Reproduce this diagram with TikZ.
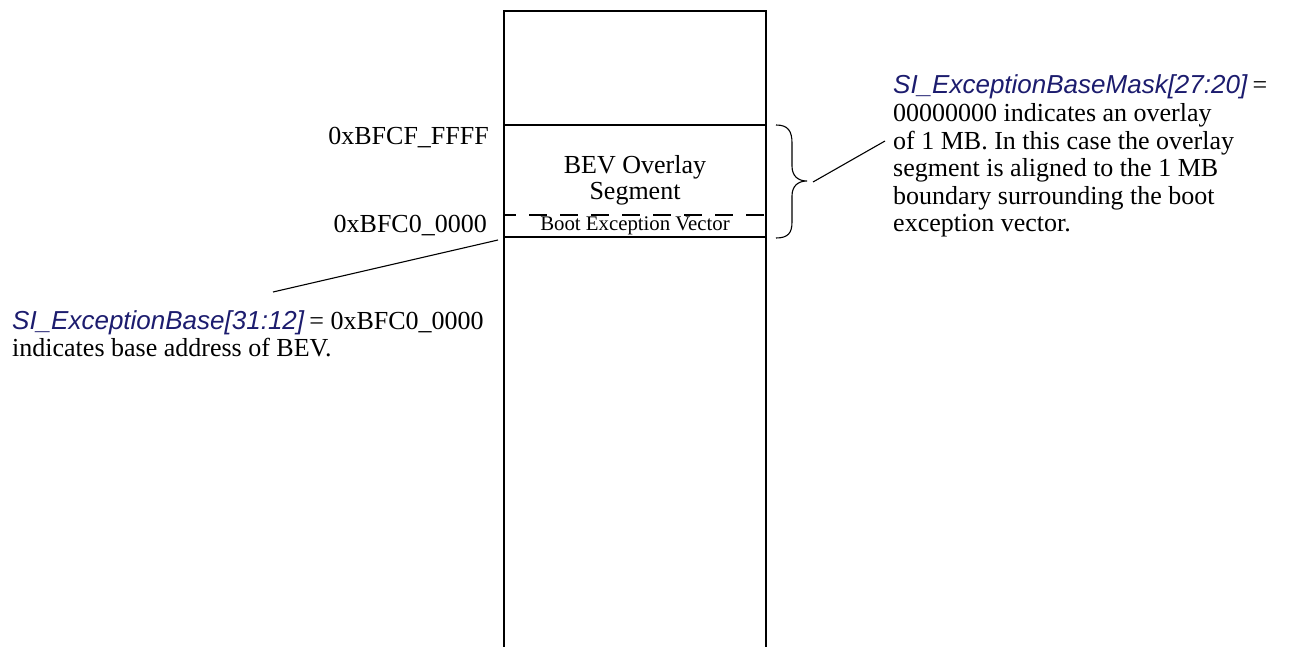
\documentclass[tikz,border=0pt]{standalone}
\usepackage{fontspec}
\setmainfont{Liberation Serif}
\setsansfont{Liberation Sans}
\definecolor{sicolor}{RGB}{28,28,110}
\begin{document}
\begin{tikzpicture}[x=1pt,y=-1pt,
  txt/.style={inner sep=0pt,font=\fontsize{26}{26}\selectfont},
  small/.style={inner sep=0pt,font=\fontsize{20.8}{21}\selectfont},
  box/.style={line width=2pt},
  thin/.style={line width=1.1pt},
  sitxt/.style={inner sep=0pt,font=\fontsize{26}{26}\sffamily\itshape,text=sicolor}]
\useasboundingbox (0,0) rectangle (1293,647);
% memory column
\coordinate (tl) at (504,11);
\coordinate (tr) at (766,11);
\coordinate (bl) at (504,647);
\coordinate (br) at (766,647);
\draw[box,line cap=rect] (bl) -- (tl) -- (tr) -- (br);
\coordinate (l1a) at (504,125); \coordinate (l1b) at (767,125);
\coordinate (l2a) at (504,237); \coordinate (l2b) at (766,237);
\coordinate (d1a) at (504,215); \coordinate (d1b) at (766,215);
\draw[box] (l1a) -- (l1b);
\draw[box] (l2a) -- (l2b);
\draw[box,dash pattern=on 18pt off 13pt,dash phase=6pt] (d1a) -- (d1b);
\node[txt,anchor=base] (bev1) at (635,174) {BEV Overlay};
\node[txt,anchor=base] (bev2) at (635,200) {Segment};
\node[small,anchor=base] (bootv) at (635,231) {Boot Exception Vector};
% addresses
\node[txt,anchor=base east] (addrtop) at (489,145) {0xBFCF\_FFFF};
\node[txt,anchor=base east] (addrbot) at (487,233) {0xBFC0\_0000};
% brace
\draw[thin] (776,125) .. controls (788,125) and (792,131) .. (792,143) -- (792,166)
  .. controls (792,176) and (798,181) .. (807,181)
  .. controls (798,181) and (792,186) .. (792,196) -- (792,222)
  .. controls (792,233) and (788,238) .. (776,238);
% right annotation
\coordinate (rc1) at (813,182);
\coordinate (rc2) at (885,141);
\draw[thin] (rc1) -- (rc2);
\node[sitxt,anchor=base west] (r1) at (893,94) {SI\_ExceptionBaseMask[27:20]\rmfamily\upshape\color{black}\hspace{0.2em}=};
\node[txt,anchor=base west] (r2) at (893,122) {00000000 indicates an overlay};
\node[txt,anchor=base west] (r3) at (893,150) {of 1 MB. In this case the overlay};
\node[txt,anchor=base west] (r4) at (893,177) {segment is aligned to the 1 MB};
\node[txt,anchor=base west] (r5) at (893,205) {boundary surrounding the boot};
\node[txt,anchor=base west] (r6) at (893,232) {exception vector.};
% left annotation
\coordinate (lc1) at (273,292);
\coordinate (lc2) at (498,240);
\draw[thin] (lc1) -- (lc2);
\node[sitxt,anchor=base west] (l1) at (12,329) {SI\_ExceptionBase[31:12]\rmfamily\upshape\color{black}\hspace{0.2em}=\hspace{0.25em}0xBFC0\_0000};
\node[txt,anchor=base west] (l2) at (12,356) {indicates base address of BEV.};
\end{tikzpicture}
\end{document}
